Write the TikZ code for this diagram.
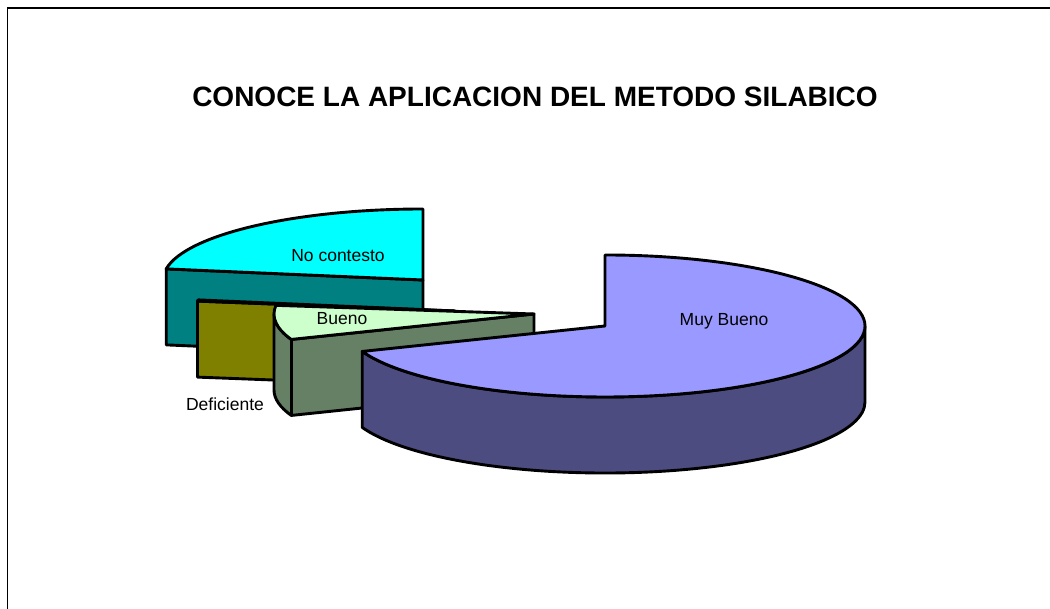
\documentclass[tikz,border=0pt]{standalone}
\usepackage{fontspec}
\setmainfont{Liberation Sans}
\usepackage{tikz}
\usetikzlibrary{calc}
\definecolor{nctop}{RGB}{0,255,255}
\definecolor{ncside}{RGB}{0,128,128}
\definecolor{detop}{RGB}{255,255,0}
\definecolor{deside}{RGB}{128,128,0}
\definecolor{butop}{RGB}{204,255,204}
\definecolor{buside}{RGB}{102,128,102}
\definecolor{mbtop}{RGB}{153,153,255}
\definecolor{mbside}{RGB}{76,76,128}
\tikzset{
pieslice/.style = {draw=black, line width=2.9pt, line join=round},
rim/.style = {x radius=260, y radius=71},
pielabel/.style = {anchor=base, inner sep=0pt, font=\fontsize{17.5}{20}\selectfont},
charttitle/.style = {anchor=base, inner sep=0pt, font=\fontsize{28}{32}\selectfont\bfseries},
chartframe/.style = {draw=black, line width=1.5pt}
}
\begin{document}
\begin{tikzpicture}[x=1pt, y=1pt]
                \useasboundingbox (0,0) rectangle (1050,609);
                \draw [chartframe] (7.5,0) -- (7.5,601) -- (1050,601);
                \node [charttitle] (title) at (535,502) {CONOCE LA APLICACION DEL METODO SILABICO};

                \coordinate (nc) at (423,329);
                \coordinate (de) at (455,298);
                \coordinate (bu) at (534,295);
                \coordinate (mb) at (605,283);

                % No contesto
                \draw [pieslice, fill=ncside] (nc) -- ++(171:260pt and 71pt) -- ++(0,-76) -- ($(nc)+(0,-76)$) -- cycle;
                \draw [pieslice, fill=nctop] (nc) -- ++(90:260pt and 71pt) arc [rim, start angle=90, end angle=171] -- cycle;
                % Deficiente
                \draw [pieslice, fill=deside] (de) -- ++(172:260pt and 71pt) -- ++(0,-76) -- ($(de)+(0,-76)$) -- cycle;
                \draw [pieslice, fill=detop] (de) -- ++(171:260pt and 71pt) arc [rim, start angle=171, end angle=172] -- cycle;
                % Bueno
                \draw [pieslice, fill=buside] (bu) ++(180:260pt and 71pt) arc [rim, start angle=180, end angle=201] -- (bu) -- ($(bu)+(0,-76)$) -- ++(201:260pt and 71pt) arc [rim, start angle=201, end angle=180] -- cycle;
                \draw [pieslice] (bu) ++(201:260pt and 71pt) -- ++(0,-76);
                \draw [pieslice, fill=butop] (bu) -- ++(173:260pt and 71pt) arc [rim, start angle=173, end angle=201] -- cycle;
                % Muy Bueno
                \draw [pieslice, fill=mbside] (mb) ++(0:260pt and 71pt) arc [rim, start angle=0, end angle=-159] -- ++(0,-76) arc [rim, start angle=-159, end angle=0] -- cycle;
                \draw [pieslice, fill=mbtop] (mb) -- ++(90:260pt and 71pt) arc [rim, start angle=90, end angle=-159] -- cycle;

                \node [pielabel] (nclbl) at (338,347) {No contesto};
                \node [pielabel] (bulbl) at (342,284) {Bueno};
                \node [pielabel] (mblbl) at (724,283) {Muy Bueno};
                \node [pielabel] (delbl) at (225,198) {Deficiente};
\end{tikzpicture}
\end{document}
